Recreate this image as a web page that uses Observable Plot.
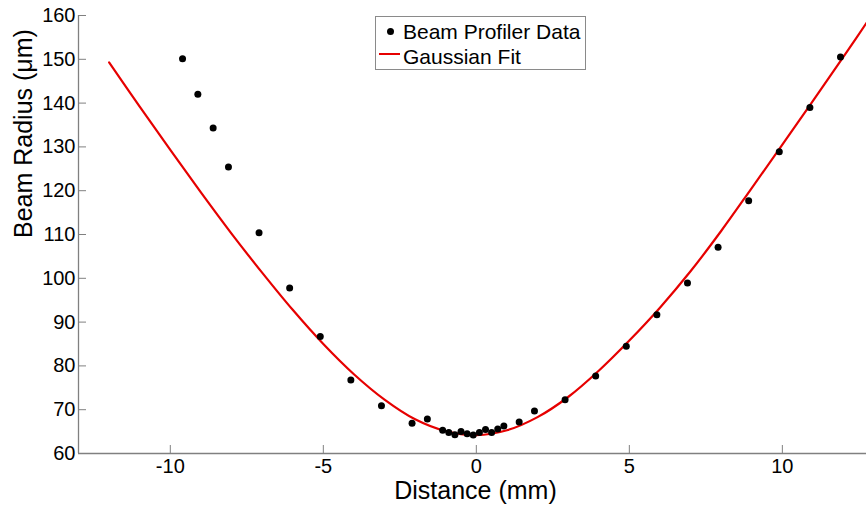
<!DOCTYPE html>
<html>
<head>
<meta charset="utf-8">
<script src="https://cdn.jsdelivr.net/npm/d3@7"></script>
<script src="https://cdn.jsdelivr.net/npm/@observablehq/plot@0.6"></script>
<style>
  body { margin: 0; background: #fff; font-family: "Liberation Sans", Arial, sans-serif; }
  #wrap { position: relative; width: 867px; height: 508px; }
  #legend { position: absolute; left: 375px; top: 16px; width: 211px; height: 54px; box-sizing: border-box;
            border: 1px solid #8a8a8a; background: #fff; }
  #legend .txt { position: absolute; left: 27px; font-size: 21px; line-height: 21px; color: #000; white-space: nowrap; }
  #legend .dot { position: absolute; width: 7px; height: 7px; border-radius: 50%; background: #000; }
  #legend .ln { position: absolute; height: 2px; background: #e60000; }
</style>
</head>
<body>
<div id="wrap">
  <div id="legend">
    <div class="dot" style="left:10.5px; top:10.5px;"></div>
    <div class="txt" style="top:4px;">Beam Profiler Data</div>
    <div class="ln" style="left:3px; top:36px; width:21px;"></div>
    <div class="txt" style="top:28.5px;">Gaussian Fit</div>
  </div>
</div>
<script>
// Measured data points (Distance in mm, Beam radius in µm)
const dataX = [-9.6, -9.1, -8.6, -8.1, -7.1, -6.1, -5.1, -4.1, -3.1, -2.1, -1.6,
               -1.1, -0.9, -0.7, -0.5, -0.3, -0.1, 0.1, 0.3, 0.5, 0.7, 0.9,
               1.4, 1.9, 2.9, 3.9, 4.9, 5.9, 6.9, 7.9, 8.9, 9.9, 10.9, 11.9];
const dataY = [150.1, 142.0, 134.3, 125.4, 110.4, 97.8, 86.7, 76.8, 70.9, 66.9, 67.9,
               65.3, 64.8, 64.3, 65.0, 64.5, 64.2, 64.8, 65.5, 64.8, 65.6, 66.3,
               67.2, 69.7, 72.3, 77.7, 84.5, 91.7, 98.9, 107.1, 117.7, 128.9, 139.0, 150.5];

// Gaussian fit curve
const fitX = [-12, -11, -10, -9, -8, -7, -6, -5, -4, -3, -2, -1, 0,
              1, 2, 3, 4, 5, 6, 7, 8, 9, 10, 11, 12, 13];
const fitY = [149.3, 139.2, 129.3, 119.6, 110.2, 101.3, 92.8, 85.0, 78.1, 72.3, 67.8, 65.1, 64.2,
              65.3, 68.3, 72.9, 78.9, 85.8, 93.3, 101.6, 110.8, 120.6, 130.5, 140.5, 150.6, 160.9];

const xTicks = [-10, -5, 0, 5, 10];
const yTicks = [60, 70, 80, 90, 100, 110, 120, 130, 140, 150, 160];

const xLabel = "Distance (mm)";
const yLabel = "Beam Radius (\u03BCm)";

const points = dataX.map((x, i) => ({x, y: dataY[i]}));
const fit = fitX.map((x, i) => ({x, y: fitY[i]}));

const axisGray = "#808080";

const chart = Plot.plot({
  width: 867,
  height: 508,
  marginLeft: 78,
  marginRight: 1,
  marginTop: 15,
  marginBottom: 55,
  style: { fontFamily: "'Liberation Sans', Arial, sans-serif", fontSize: "20px", color: "#000", background: "#fff", overflow: "visible" },
  x: { domain: [-13, 12.75], label: null },
  y: { domain: [60, 160], label: null },
  marks: [
    Plot.ruleY([60], { stroke: axisGray, strokeWidth: 1.3 }),
    Plot.ruleX([-13], { stroke: axisGray, strokeWidth: 1.3 }),
    Plot.axisX(xTicks, { anchor: "bottom", tickSize: -8, tickPadding: 13.3, stroke: axisGray, fill: "#000",
                         tickFormat: d => String(d), label: null, fontSize: 20 }),
    Plot.axisY(yTicks, { anchor: "left", tickSize: -8, tickPadding: 11, stroke: axisGray, fill: "#000",
                         tickFormat: d => String(d), label: null, fontSize: 20 }),
    Plot.line(fit, { x: "x", y: "y", stroke: "#e60000", strokeWidth: 2.2, curve: "catmull-rom", clip: true }),
    Plot.dot(points, { x: "x", y: "y", r: 3.5, fill: "#000", stroke: null }),
    Plot.text([xLabel], { frameAnchor: "bottom", text: d => d, fontSize: 25, dy: 37.5, dx: 3, lineAnchor: "middle", fill: "#000" }),
    Plot.text([yLabel], { frameAnchor: "left", text: d => d, fontSize: 25, rotate: -90, dx: -55, dy: 3.5, lineAnchor: "middle", fill: "#000" })
  ]
});

document.getElementById("wrap").prepend(chart);
</script>
</body>
</html>
